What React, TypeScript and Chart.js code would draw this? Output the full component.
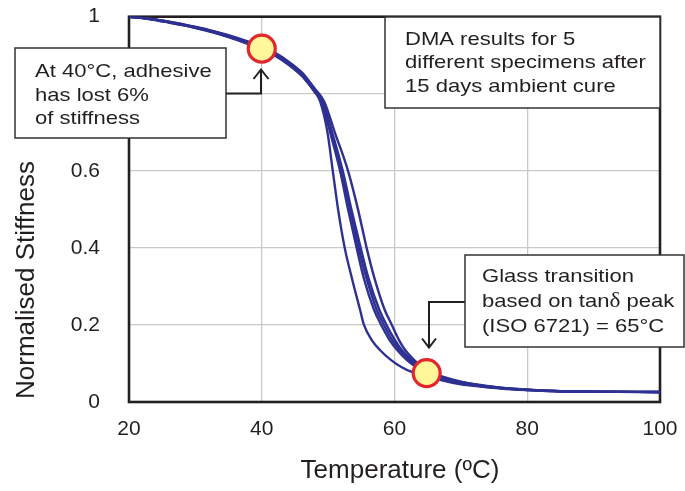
import React, { useEffect, useRef } from "react";
import { Chart, registerables } from "chart.js";

Chart.register(...registerables);

// ---- data ----
const xTicks = [20, 40, 60, 80, 100];
const yTicks = [0, 0.2, 0.4, 0.6, 0.8, 1];

const tempA = [20, 23, 26, 29, 32, 35, 38, 40, 42, 44, 46, 47, 48, 48.8, 49.9, 50.7, 51.5, 52.5, 53.6, 54.8, 55.4, 56.6, 57.8, 59.4, 61.1, 62.6, 65, 67, 70, 73, 76, 80, 85, 90, 100];
const stiffA = [1, 0.994, 0.985, 0.975, 0.963, 0.948, 0.93, 0.917, 0.9, 0.877, 0.848, 0.828, 0.805, 0.78, 0.7, 0.6, 0.5, 0.4, 0.32, 0.24, 0.2, 0.16, 0.135, 0.11, 0.09, 0.078, 0.068, 0.057, 0.046, 0.04, 0.035, 0.031, 0.028, 0.027, 0.026];

const tempB = [20, 23, 26, 29, 32, 35, 38, 40, 42, 44, 46, 47, 48, 49.0, 50.3, 51.8, 53.0, 54.3, 55.4, 56.9, 58.0, 59.3, 60.4, 61.8, 63.3, 64.5, 67, 70, 73, 76, 80, 85, 90, 100];
const stiffB = [1, 0.995, 0.986, 0.976, 0.964, 0.949, 0.931, 0.918, 0.901, 0.878, 0.849, 0.829, 0.806, 0.78, 0.7, 0.6, 0.5, 0.4, 0.32, 0.24, 0.2, 0.16, 0.135, 0.11, 0.09, 0.078, 0.061, 0.049, 0.041, 0.036, 0.031, 0.028, 0.027, 0.026];

const tempC = [20, 23, 26, 29, 32, 35, 38, 40, 42, 44, 46, 47, 48, 49.1, 50.5, 52.0, 53.3, 54.6, 55.8, 57.3, 58.4, 59.7, 60.8, 62.2, 63.6, 64.8, 67, 70, 73, 76, 80, 85, 90, 100];
const stiffC = [1, 0.994, 0.985, 0.975, 0.962, 0.947, 0.929, 0.916, 0.899, 0.876, 0.847, 0.827, 0.804, 0.78, 0.7, 0.6, 0.5, 0.4, 0.32, 0.24, 0.2, 0.16, 0.135, 0.11, 0.09, 0.078, 0.063, 0.05, 0.042, 0.036, 0.031, 0.028, 0.027, 0.025];

const tempD = [20, 23, 26, 29, 32, 35, 38, 40, 42, 44, 46, 47, 48, 49.2, 50.6, 52.2, 53.5, 54.9, 56.1, 57.7, 58.8, 60.1, 61.1, 62.5, 63.9, 65.1, 67, 70, 73, 76, 80, 85, 90, 100];
const stiffD = [1, 0.995, 0.987, 0.977, 0.965, 0.95, 0.933, 0.92, 0.903, 0.88, 0.852, 0.832, 0.809, 0.78, 0.7, 0.6, 0.5, 0.4, 0.32, 0.24, 0.2, 0.16, 0.135, 0.11, 0.09, 0.078, 0.065, 0.052, 0.043, 0.037, 0.032, 0.028, 0.027, 0.026];

const tempE = [20, 23, 26, 29, 32, 35, 38, 40, 42, 44, 46, 47, 48, 49.4, 51.0, 53.0, 54.5, 55.8, 57.0, 58.5, 59.6, 60.7, 61.6, 62.9, 64.2, 65.4, 67, 70, 73, 76, 80, 85, 90, 100];
const stiffE = [1, 0.995, 0.987, 0.977, 0.966, 0.952, 0.935, 0.922, 0.906, 0.884, 0.856, 0.836, 0.813, 0.78, 0.7, 0.6, 0.5, 0.4, 0.32, 0.24, 0.2, 0.16, 0.135, 0.11, 0.09, 0.078, 0.067, 0.053, 0.044, 0.037, 0.032, 0.028, 0.027, 0.026];

const markerTemps = [40, 64.85];
const markerStiff = [0.917, 0.075];

const boxLeftLines = ["At 40°C, adhesive", "has lost 6%", "of stiffness"];
const boxTopLines = ["DMA results for 5", "different specimens after", "15 days ambient cure"];
const boxRightLines = ["Glass transition", "based on tan", "δ", " peak", "(ISO 6721) = 65°C"];

const xTitle = "Temperature (ºC)";
const yTitle = "Normalised Stiffness";

const FONT = "Arial, 'Liberation Sans', sans-serif";
const CURVE = "#2e3192";
const INK = "#231f20";

function toPoints(t: number[], v: number[]) {
  return t.map((x, i) => ({ x, y: v[i] }));
}

export default function App() {
  const ref = useRef<HTMLCanvasElement | null>(null);

  useEffect(() => {
    if (!ref.current) return;
    const SX = 1.16;
    const textScaled = (ctx: CanvasRenderingContext2D, s: string, x: number, y: number) => {
      ctx.save();
      ctx.translate(x, y);
      ctx.scale(SX, 1);
      ctx.fillText(s, 0, 0);
      ctx.restore();
      return ctx.measureText(s).width * SX;
    };

    const overlay = {
      id: "overlay",
      beforeDatasetsDraw(chart: any) {
        const { ctx, chartArea: a } = chart;
        ctx.save();
        ctx.strokeStyle = INK;
        ctx.lineWidth = 2.6;
        ctx.strokeRect(a.left, a.top, a.right - a.left, a.bottom - a.top);
        ctx.restore();
      },
      afterDraw(chart: any) {
        const ctx: CanvasRenderingContext2D = chart.ctx;
        ctx.save();
        // axis titles
        ctx.fillStyle = INK;
        ctx.font = `26px ${FONT}`;
        ctx.textAlign = "center";
        ctx.textBaseline = "alphabetic";
        ctx.fillText(xTitle, 400, 478);
        ctx.save();
        ctx.translate(34, 280);
        ctx.rotate(-Math.PI / 2);
        ctx.fillText(yTitle, 0, 0);
        ctx.restore();

        // connectors
        ctx.strokeStyle = INK;
        ctx.lineWidth = 2;
        ctx.lineJoin = "miter";
        ctx.beginPath();
        ctx.moveTo(226, 93.5);
        ctx.lineTo(261, 93.5);
        ctx.lineTo(261, 69);
        ctx.stroke();
        ctx.beginPath();
        ctx.moveTo(253.5, 79);
        ctx.lineTo(261, 69.5);
        ctx.lineTo(268.5, 79);
        ctx.stroke();

        ctx.beginPath();
        ctx.moveTo(465, 302);
        ctx.lineTo(429, 302);
        ctx.lineTo(429, 348);
        ctx.stroke();
        ctx.beginPath();
        ctx.moveTo(422, 338.5);
        ctx.lineTo(429, 347.5);
        ctx.lineTo(436, 338.5);
        ctx.stroke();

        // boxes
        const box = (x0: number, y0: number, x1: number, y1: number) => {
          ctx.fillStyle = "#ffffff";
          ctx.fillRect(x0, y0, x1 - x0, y1 - y0);
          ctx.strokeStyle = "#333333";
          ctx.lineWidth = 1.5;
          ctx.strokeRect(x0, y0, x1 - x0, y1 - y0);
        };
        box(15, 48, 226, 138);
        box(385, 17, 660, 108);
        box(465, 255, 684, 347);

        ctx.fillStyle = INK;
        ctx.textAlign = "left";
        ctx.font = `19px ${FONT}`;
        const b1y = [77.3, 100.6, 124];
        boxLeftLines.forEach((s, i) => textScaled(ctx, s, 35, b1y[i]));
        const b2y = [45, 68.3, 91.7];
        boxTopLines.forEach((s, i) => textScaled(ctx, s, 405, b2y[i]));

        ctx.font = `19px ${FONT}`;
        textScaled(ctx, boxRightLines[0], 482, 281.7);
        let cx = 482;
        cx += textScaled(ctx, boxRightLines[1], cx, 306.7);
        ctx.font = `20px 'Liberation Serif', 'DejaVu Serif', serif`;
        cx += textScaled(ctx, boxRightLines[2], cx, 306.7);
        ctx.font = `19px ${FONT}`;
        textScaled(ctx, boxRightLines[3], cx, 306.7);
        textScaled(ctx, boxRightLines[4], 482, 331.7);
        ctx.restore();
      },
    };

    const curves = [
      [tempA, stiffA],
      [tempB, stiffB],
      [tempC, stiffC],
      [tempD, stiffD],
      [tempE, stiffE],
    ].map(([t, v]) => ({
      data: toPoints(t, v),
      showLine: true,
      borderColor: CURVE,
      borderWidth: 2.4,
      pointRadius: 0,
      cubicInterpolationMode: "monotone" as const,
      fill: false,
    }));

    const chart = new Chart(ref.current, {
      type: "scatter",
      data: {
        datasets: [
          {
            data: toPoints(markerTemps, markerStiff),
            pointRadius: 13.5,
            pointBorderWidth: 3.2,
            pointBackgroundColor: "#fff799",
            pointBorderColor: "#e3262b",
            showLine: false,
            clip: false as any,
          },
          ...curves,
        ],
      },
      options: {
        responsive: false,
        animation: false,
        events: [],
        layout: { padding: { top: 16, right: 25, left: 0, bottom: 0 } },
        plugins: { legend: { display: false }, tooltip: { enabled: false } },
        scales: {
          x: {
            type: "linear",
            min: 20,
            max: 100,
            afterFit: (s: any) => {
              s.height = 89;
              s.paddingLeft = 0;
              s.paddingRight = 0;
              s.paddingTop = 0;
              s.paddingBottom = 0;
            },
            afterBuildTicks: (s: any) => {
              s.ticks = xTicks.map((value) => ({ value }));
            },
            border: { display: false },
            grid: { color: "#c9c9c9", lineWidth: 1.3, drawTicks: false },
            ticks: {
              padding: 15,
              color: INK,
              font: { family: FONT, size: 21 },
            },
          },
          y: {
            type: "linear",
            min: 0,
            max: 1,
            afterFit: (s: any) => {
              s.width = 129;
              s.paddingLeft = 0;
              s.paddingRight = 0;
              s.paddingTop = 0;
              s.paddingBottom = 0;
            },
            afterBuildTicks: (s: any) => {
              s.ticks = yTicks.map((value) => ({ value }));
            },
            border: { display: false },
            grid: { color: "#c9c9c9", lineWidth: 1.3, drawTicks: false },
            ticks: {
              padding: 29,
              color: INK,
              font: { family: FONT, size: 21 },
              callback: (v: any) => String(Math.round(Number(v) * 10) / 10),
            },
          },
        },
      },
      plugins: [overlay],
    });
    return () => chart.destroy();
  }, []);

  return (
    <div style={{ position: "absolute", left: 0, top: 0, width: 685, height: 491, background: "#fff" }}>
      <canvas ref={ref} width={685} height={491} style={{ width: 685, height: 491, display: "block" }} />
    </div>
  );
}
